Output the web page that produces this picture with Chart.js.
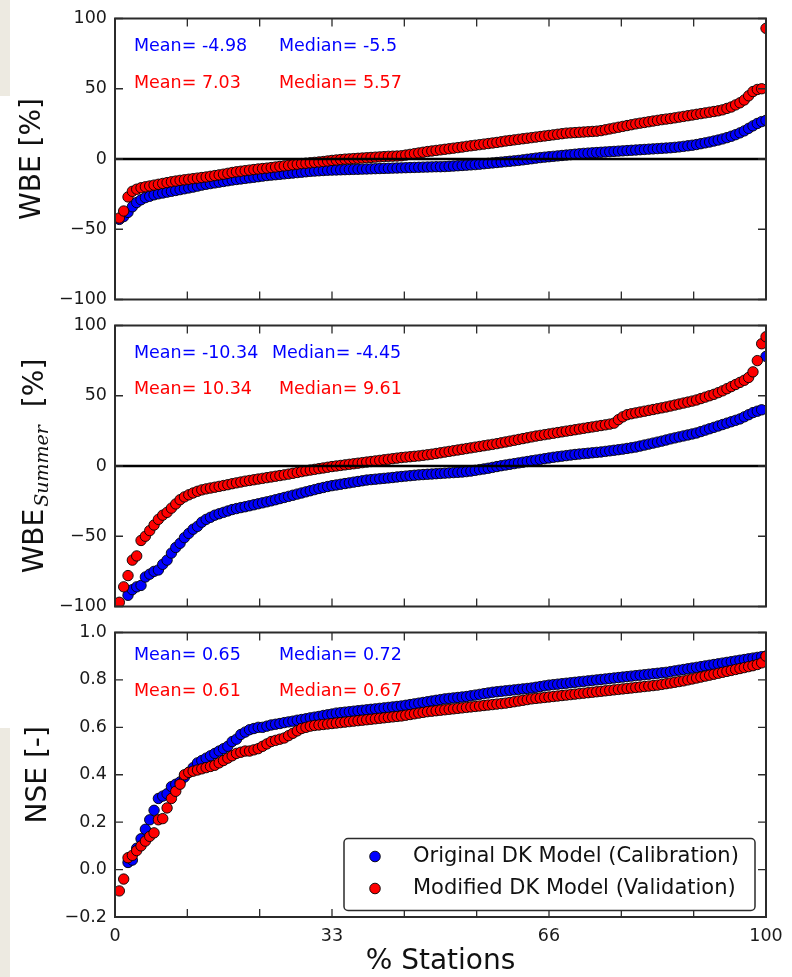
<!DOCTYPE html>
<html>
<head>
<meta charset="utf-8">
<script src="https://cdn.jsdelivr.net/npm/chart.js@4"></script>
<style>
  html, body { margin: 0; padding: 0; background: #fff; }
  #fig { position: relative; width: 792px; height: 977px; background: #fff; overflow: hidden; }
  .strip { position: absolute; left: 0; width: 10px; background: #edeae1; }
  canvas { position: absolute; left: 0; }
</style>
</head>
<body>
<div id="fig">
  <div class="strip" style="top:0;height:96px"></div>
  <div class="strip" style="top:728px;height:249px"></div>
  <canvas id="c1" width="792" height="318" style="top:0"></canvas>
  <canvas id="c2" width="792" height="318" style="top:307px"></canvas>
  <canvas id="c3" width="792" height="363" style="top:614px"></canvas>
</div>
<script>
const FONT = "'DejaVu Sans', sans-serif";
const BLUE = '#0000ff';
const RED = '#ff0000';

const seriesNames = ['Original DK Model (Calibration)', 'Modified DK Model (Validation)'];
const xTickLabels = ['0', '33', '66', '100'];

// WBE [%], sorted per station (150 stations)
const wbeCal = [
  -43, -41, -38, -34, -31, -29, -27.5, -26.5, -25.5, -24.8,
  -24.2, -23.6, -23, -22.4, -21.8, -21.2, -20.6, -20, -19.3, -18.6,
  -18, -17.5, -17, -16.5, -16, -15.5, -15, -14.6, -14.2, -13.8,
  -13.4, -13, -12.6, -12.2, -11.8, -11.5, -11.2, -10.9, -10.6, -10.3,
  -10, -9.7, -9.4, -9.1, -8.8, -8.6, -8.4, -8.2, -8, -7.9,
  -7.8, -7.7, -7.6, -7.5, -7.4, -7.3, -7.2, -7.1, -7, -6.9,
  -6.8, -6.7, -6.6, -6.5, -6.4, -6.3, -6.2, -6.1, -6, -5.9,
  -5.8, -5.7, -5.6, -5.5, -5.5, -5.4, -5.2, -5, -4.8, -4.6,
  -4.4, -4.2, -4, -3.7, -3.4, -3.1, -2.8, -2.5, -2.2, -1.9,
  -1.6, -1.3, -1, -0.6, -0.2, 0.2, 0.6, 1, 1.3, 1.6,
  1.9, 2.2, 2.5, 2.8, 3.1, 3.4, 3.7, 4, 4.2, 4.4,
  4.6, 4.8, 5, 5.2, 5.4, 5.6, 5.8, 6, 6.2, 6.4,
  6.6, 6.8, 7, 7.2, 7.4, 7.6, 7.8, 8, 8.3, 8.6,
  9, 9.4, 9.8, 10.3, 10.9, 11.5, 12.1, 12.8, 13.5, 14.3,
  15.2, 16.2, 17.3, 18.6, 20, 21.8, 23.6, 25.3, 26.6, 27.5
];
const wbeVal = [
  -42, -37, -27, -23, -21.5, -20.5, -19.8, -19.2, -18.6, -18,
  -17.4, -16.8, -16.2, -15.7, -15.2, -14.8, -14.4, -14, -13.6, -13.2,
  -12.8, -12.3, -11.8, -11.3, -10.8, -10.2, -9.6, -9.1, -8.7, -8.3,
  -7.9, -7.5, -7.1, -6.8, -6.5, -6.1, -5.7, -5.3, -4.9, -4.5,
  -4.1, -3.7, -3.3, -3, -2.7, -2.4, -2.1, -1.8, -1.4, -1,
  -0.7, -0.4, -0.1, 0.1, 0.3, 0.5, 0.7, 0.9, 1.1, 1.3,
  1.5, 1.7, 1.9, 2, 2.1, 2.3, 2.8, 3.3, 3.8, 4.3,
  4.8, 5.3, 5.7, 6.1, 6.5, 6.9, 7.3, 7.7, 8.1, 8.5,
  9, 9.4, 9.8, 10.2, 10.6, 11, 11.4, 11.8, 12.3, 12.8,
  13.2, 13.6, 14, 14.4, 14.8, 15.2, 15.6, 16, 16.4, 16.8,
  17.2, 17.6, 18, 18.4, 18.6, 18.8, 19, 19.2, 19.4, 19.6,
  19.8, 20.2, 20.8, 21.4, 22, 22.6, 23.2, 23.8, 24.4, 25,
  25.5, 26, 26.5, 27, 27.5, 28, 28.4, 28.8, 29.3, 29.8,
  30.3, 30.8, 31.3, 31.8, 32.3, 32.8, 33.3, 33.8, 34.3, 35,
  36, 37, 38.5, 40, 42, 45, 48, 49.5, 50, 93
];

// WBE summer [%] (first stations fall below the axis)
const summerCal = [
  null, null, -92, -88, -86, -85, -79, -77, -75, -74,
  -70, -67, -62, -58, -55, -51, -48, -45, -43, -40,
  -38, -36.5, -35, -34, -33, -32, -31, -30.3, -29.6, -29,
  -28.3, -27.6, -26.9, -26.2, -25.5, -24.8, -24, -23.2, -22.4, -21.6,
  -20.8, -20, -19.2, -18.4, -17.6, -16.8, -16, -15.3, -14.6, -14,
  -13.5, -13, -12.5, -12, -11.5, -11, -10.5, -10, -9.7, -9.4,
  -9.1, -8.8, -8.5, -8.2, -7.8, -7.5, -7.2, -6.9, -6.6, -6.3,
  -6.1, -5.9, -5.7, -5.5, -5.3, -5.1, -4.9, -4.7, -4.5, -4.3,
  -4, -3.6, -3.1, -2.6, -2.1, -1.6, -1, -0.4, 0.2, 0.7,
  1.2, 1.7, 2.2, 2.7, 3.2, 3.7, 4.2, 4.7, 5.2, 5.7,
  6.2, 6.6, 7, 7.4, 7.8, 8.2, 8.5, 8.8, 9.1, 9.4,
  9.7, 10, 10.4, 10.8, 11.2, 11.6, 12, 12.5, 13, 13.5,
  14.2, 14.9, 15.6, 16.3, 17, 17.7, 18.5, 19.3, 20, 20.7,
  21.4, 22.1, 22.8, 23.5, 24.5, 25.5, 26.5, 27.5, 28.5, 29.5,
  30.5, 31.5, 32.5, 33.5, 35, 36.5, 38, 39, 40, 78
];
const summerVal = [
  -97, -86, -78, -67, -64, -53, -50, -46, -42, -38,
  -35, -33, -30, -27, -24, -22, -20.5, -19.2, -18, -17,
  -16.3, -15.7, -15.1, -14.5, -13.9, -13.3, -12.6, -12, -11.4, -10.8,
  -10.3, -9.8, -9.3, -8.8, -8.3, -7.8, -7.3, -6.8, -6.3, -5.8,
  -5.2, -4.6, -4, -3.4, -2.9, -2.4, -1.9, -1.4, -0.9, -0.4,
  0, 0.4, 0.8, 1.2, 1.6, 2, 2.4, 2.8, 3.2, 3.6,
  4, 4.4, 4.8, 5.2, 5.6, 6, 6.3, 6.6, 6.9, 7.2,
  7.6, 8, 8.4, 8.9, 9.4, 9.9, 10.4, 10.9, 11.4, 11.9,
  12.4, 12.9, 13.4, 13.9, 14.4, 14.9, 15.4, 15.9, 16.5, 17.1,
  17.7, 18.3, 18.9, 19.5, 20.1, 20.7, 21.3, 21.8, 22.3, 22.8,
  23.3, 23.8, 24.3, 24.8, 25.3, 25.8, 26.3, 26.8, 27.3, 27.8,
  28.3, 28.8, 29.3, 29.8, 30.5, 33, 35, 36.5, 37.2, 37.8,
  38.4, 39, 39.6, 40.2, 40.8, 41.4, 42, 42.7, 43.4, 44.1,
  44.8, 45.5, 46.2, 47, 48, 49, 50, 51, 52.2, 53.5,
  55, 56.5, 58, 59.5, 61, 63, 67, 75, 87, 92
];

// NSE [-]
const nseCal = [
  null, null, 0.03, 0.04, 0.09, 0.13, 0.17, 0.21, 0.25, 0.3,
  0.31, 0.32, 0.35, 0.36, 0.37, 0.39, 0.41, 0.43, 0.45, 0.46,
  0.47, 0.48, 0.49, 0.5, 0.51, 0.52, 0.54, 0.55, 0.57, 0.58,
  0.59, 0.595, 0.6, 0.6, 0.605, 0.61, 0.613, 0.616, 0.62, 0.623,
  0.626, 0.63, 0.633, 0.636, 0.64, 0.643, 0.646, 0.65, 0.653, 0.656,
  0.66, 0.662, 0.664, 0.666, 0.668, 0.67, 0.672, 0.674, 0.676, 0.678,
  0.68, 0.682, 0.684, 0.686, 0.688, 0.69, 0.693, 0.696, 0.699, 0.702,
  0.705, 0.708, 0.711, 0.714, 0.717, 0.72, 0.722, 0.724, 0.726, 0.728,
  0.73, 0.733, 0.736, 0.739, 0.742, 0.745, 0.748, 0.75, 0.752, 0.754,
  0.756, 0.758, 0.76, 0.762, 0.764, 0.766, 0.769, 0.772, 0.775, 0.778,
  0.78, 0.782, 0.784, 0.786, 0.788, 0.79, 0.792, 0.794, 0.796, 0.798,
  0.8, 0.802, 0.804, 0.806, 0.808, 0.81, 0.812, 0.814, 0.816, 0.818,
  0.82, 0.822, 0.824, 0.826, 0.828, 0.83, 0.832, 0.835, 0.838, 0.841,
  0.844, 0.847, 0.85, 0.853, 0.856, 0.859, 0.862, 0.865, 0.868, 0.871,
  0.874, 0.877, 0.88, 0.883, 0.886, 0.889, 0.892, 0.895, 0.898, 0.9
];
const nseVal = [
  -0.09, -0.04, 0.05, 0.06, 0.08, 0.1, 0.12, 0.14, 0.155, 0.21,
  0.215, 0.26, 0.3, 0.33, 0.36, 0.4, 0.41, 0.415, 0.42, 0.425,
  0.43, 0.435, 0.44, 0.45, 0.46, 0.47, 0.48, 0.49, 0.495, 0.5,
  0.5, 0.505, 0.51, 0.52, 0.53, 0.54, 0.545, 0.55, 0.555, 0.565,
  0.575, 0.585, 0.595, 0.6, 0.605, 0.608, 0.61, 0.612, 0.614, 0.616,
  0.618, 0.62, 0.622, 0.624, 0.626, 0.628, 0.63, 0.632, 0.634, 0.636,
  0.638, 0.64, 0.642, 0.644, 0.646, 0.648, 0.651, 0.654, 0.657, 0.66,
  0.663, 0.666, 0.668, 0.67, 0.672, 0.674, 0.676, 0.678, 0.68, 0.682,
  0.684, 0.686, 0.688, 0.69, 0.692, 0.694, 0.696, 0.698, 0.7, 0.702,
  0.705, 0.708, 0.711, 0.714, 0.717, 0.72, 0.722, 0.724, 0.726, 0.728,
  0.73, 0.732, 0.734, 0.736, 0.738, 0.74, 0.742, 0.744, 0.746, 0.748,
  0.75, 0.752, 0.754, 0.756, 0.758, 0.76, 0.762, 0.764, 0.766, 0.768,
  0.77, 0.772, 0.774, 0.776, 0.778, 0.781, 0.784, 0.787, 0.79, 0.793,
  0.796, 0.8, 0.804, 0.808, 0.812, 0.816, 0.82, 0.824, 0.828, 0.832,
  0.836, 0.84, 0.844, 0.848, 0.852, 0.856, 0.86, 0.865, 0.872, 0.9
];

// text labels: [text, colour, x offset from plot left, y offset from plot top]
const wbeStats = [
  ['Mean= -4.98', BLUE, 19, 28], ['Median= -5.5', BLUE, 164, 28],
  ['Mean= 7.03', RED, 19, 65], ['Median= 5.57', RED, 164, 65]
];
const summerStats = [
  ['Mean= -10.34', BLUE, 19, 28], ['Median= -4.45', BLUE, 157, 28],
  ['Mean= 10.34', RED, 19, 64], ['Median= 9.61', RED, 164, 64]
];
const nseStats = [
  ['Mean= 0.65', BLUE, 19, 23], ['Median= 0.72', BLUE, 164, 23],
  ['Mean= 0.61', RED, 19, 59], ['Median= 0.67', RED, 164, 59]
];

function toPoints(values) {
  const n = values.length;
  return values
    .map((v, i) => ({ x: (i + 1) / n * 100, y: v }))
    .filter(p => p.y !== null);
}

function withMinus(str) {
  return str.replace('-', '\u2212');
}

const framePlugin = {
  id: 'frame',
  afterDatasetsDraw(chart, args, opts) {
    const { ctx, chartArea: a } = chart;
    const x = chart.scales.x;
    const y = chart.scales.y;
    ctx.save();

    if (opts.zeroLine) {
      const py = y.getPixelForValue(0);
      ctx.strokeStyle = '#000';
      ctx.lineWidth = 2.6;
      ctx.beginPath();
      ctx.moveTo(a.left, py);
      ctx.lineTo(a.right, py);
      ctx.stroke();
    }

    // inward ticks on all four sides
    ctx.strokeStyle = '#2b2b2b';
    ctx.lineWidth = 1.3;
    ctx.beginPath();
    y.ticks.forEach(t => {
      const py = y.getPixelForValue(t.value);
      ctx.moveTo(a.left, py); ctx.lineTo(a.left + 8, py);
      ctx.moveTo(a.right, py); ctx.lineTo(a.right - 8, py);
    });
    for (let k = 0; k <= 9; k++) {
      const px = x.getPixelForValue(k * 100 / 9);
      ctx.moveTo(px, a.top); ctx.lineTo(px, a.top + 8);
      ctx.moveTo(px, a.bottom); ctx.lineTo(px, a.bottom - 8);
    }
    ctx.stroke();
    ctx.lineWidth = 2;
    ctx.strokeRect(a.left, a.top, a.width, a.height);

    // mean / median annotations
    ctx.font = '17.5px ' + FONT;
    ctx.textBaseline = 'middle';
    ctx.textAlign = 'left';
    (opts.stats || []).forEach(([text, colour, dx, dy]) => {
      ctx.fillStyle = colour;
      ctx.fillText(text, a.left + dx, a.top + dy);
    });

    // y title with subscript
    if (opts.summerTitle) {
      ctx.save();
      ctx.translate(33, (a.top + a.bottom) / 2);
      ctx.rotate(-Math.PI / 2);
      ctx.fillStyle = '#111';
      ctx.textBaseline = 'alphabetic';
      const main = '28px ' + FONT;
      const sub = 'italic 19px "DejaVu Serif", serif';
      ctx.font = main;
      const w1 = ctx.measureText('WBE').width;
      const w3 = ctx.measureText('[%]').width;
      ctx.font = sub;
      const w2 = ctx.measureText('Summer').width;
      const gap = 18;
      let cx = -(w1 + 2 + w2 + gap + w3) / 2;
      ctx.font = main;
      ctx.fillText('WBE', cx, 10);
      cx += w1 + 2;
      ctx.font = sub;
      ctx.fillText('Summer', cx, 15);
      cx += w2 + gap;
      ctx.font = main;
      ctx.fillText('[%]', cx, 10);
      ctx.restore();
    }

    // legend box
    if (opts.legend) {
      const bx = a.left + 229, by = a.top + 206, bw = 411, bh = 72;
      ctx.fillStyle = '#fff';
      ctx.strokeStyle = '#2b2b2b';
      ctx.lineWidth = 1.5;
      ctx.beginPath();
      ctx.roundRect(bx, by, bw, bh, 4);
      ctx.fill();
      ctx.stroke();
      ctx.font = '21px ' + FONT;
      ctx.textBaseline = 'middle';
      [[BLUE, 18], [RED, 50]].forEach(([colour, dy], i) => {
        ctx.beginPath();
        ctx.arc(bx + 31, by + dy, 5.3, 0, Math.PI * 2);
        ctx.fillStyle = colour;
        ctx.fill();
        ctx.lineWidth = 0.9;
        ctx.strokeStyle = '#000';
        ctx.stroke();
        ctx.fillStyle = '#111';
        ctx.fillText(seriesNames[i], bx + 69, by + dy);
      });
    }
    ctx.restore();
  }
};

function makePanel(id, cal, val, yOpts, frameOpts, showX) {
  const ctx = document.getElementById(id).getContext('2d');
  const dot = colour => ({
    backgroundColor: colour,
    borderColor: '#000',
    borderWidth: 0.9,
    pointRadius: 5.2,
    pointHoverRadius: 5.2,
    clip: 0
  });
  return new Chart(ctx, {
    type: 'scatter',
    data: {
      datasets: [
        { label: seriesNames[0], data: toPoints(cal), order: 1, ...dot(BLUE) },
        { label: seriesNames[1], data: toPoints(val), order: 0, ...dot(RED) }
      ]
    },
    options: {
      responsive: false,
      animation: false,
      devicePixelRatio: 1,
      layout: { padding: { left: 0, right: 26, top: 15, bottom: showX ? 0 : 15 } },
      plugins: {
        legend: { display: false },
        tooltip: { enabled: false },
        frame: frameOpts
      },
      scales: {
        x: {
          type: 'linear',
          display: showX,
          min: 0,
          max: 100,
          grid: { display: false, drawTicks: false },
          border: { display: false },
          afterBuildTicks: scale => {
            scale.ticks = [];
            for (let k = 0; k <= 9; k++) scale.ticks.push({ value: k * 100 / 9 });
          },
          afterFit: scale => { scale.height = showX ? 60 : 0; },
          ticks: {
            autoSkip: false,
            maxRotation: 0,
            padding: 9,
            color: '#1a1a1a',
            font: { family: FONT, size: 17.5 },
            callback: (v, i) => (i % 3 === 0 ? xTickLabels[i / 3] : '')
          },
          title: {
            display: true,
            text: '% Stations',
            color: '#111',
            font: { family: FONT, size: 28, lineHeight: 1.1 },
            padding: { top: 0, bottom: 0 }
          }
        },
        y: {
          min: yOpts.min,
          max: yOpts.max,
          grid: { display: false, drawTicks: false },
          border: { display: false },
          afterFit: scale => { scale.width = 115; },
          ticks: {
            stepSize: yOpts.step,
            padding: 8,
            color: '#1a1a1a',
            font: { family: FONT, size: 17.5 },
            callback: v => {
              const s = Math.abs(v) < 1e-9 ? (0).toFixed(yOpts.digits) : Number(v).toFixed(yOpts.digits);
              return withMinus(s);
            }
          },
          title: {
            display: !!yOpts.title,
            text: yOpts.title || '',
            color: '#111',
            font: { family: FONT, size: 28, lineHeight: 1.2 },
            padding: { top: yOpts.titlePad, bottom: 0 }
          }
        }
      }
    },
    plugins: [framePlugin]
  });
}

makePanel('c1', wbeCal, wbeVal,
  { min: -100, max: 100, step: 50, digits: 0, title: 'WBE [%]', titlePad: 16 },
  { zeroLine: true, stats: wbeStats }, false);

makePanel('c2', summerCal, summerVal,
  { min: -100, max: 100, step: 50, digits: 0, title: '', titlePad: 16 },
  { zeroLine: true, stats: summerStats, summerTitle: true }, false);

makePanel('c3', nseCal, nseVal,
  { min: -0.2, max: 1.0, step: 0.2, digits: 1, title: 'NSE [-]', titlePad: 22 },
  { stats: nseStats, legend: true }, true);
</script>
</body>
</html>
